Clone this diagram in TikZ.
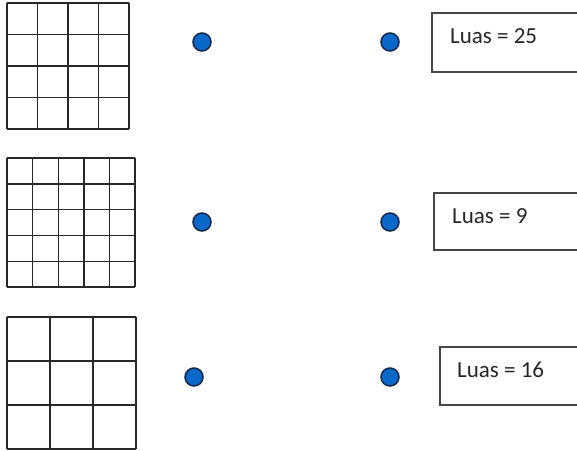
\documentclass[tikz,border=0pt]{standalone}
\usepackage{fontspec}
\setmainfont{Carlito}
\definecolor{dotfill}{RGB}{10,104,200}
\definecolor{dotedge}{RGB}{20,40,75}
\definecolor{gridline}{RGB}{40,40,40}
\definecolor{boxline}{RGB}{70,70,70}
\begin{document}
\begin{tikzpicture}[x=1pt,y=-1pt,
  gridstyle/.style={draw=gridline,line width=1.4pt},
  dotnode/.style={circle,fill=dotfill,draw=dotedge,line width=1.5pt,minimum size=18pt,inner sep=0pt},
  boxstyle/.style={draw=boxline,line width=1.5pt},
  labelnode/.style={anchor=base west,inner sep=0pt,font=\fontsize{23}{27}\selectfont,text=black!85}]
\useasboundingbox (0,0) rectangle (577,450);
% grid 1: 4x4
\foreach \x in {7,37.5,68,98.5,129} \draw[gridstyle] (\x,3) -- (\x,129);
\foreach \y in {3,34.5,66,97.5,129} \draw[gridstyle] (7,\y) -- (129,\y);
% grid 2: 5x5
\foreach \x in {7,32.6,58.2,83.8,109.4,135} \draw[gridstyle] (\x,158) -- (\x,287);
\foreach \y in {158,183.8,209.6,235.4,261.2,287} \draw[gridstyle] (7,\y) -- (135,\y);
% grid 3: 3x3
\foreach \x in {7,50,93,136} \draw[gridstyle] (\x,317) -- (\x,449);
\foreach \y in {317,361,405,449} \draw[gridstyle] (7,\y) -- (136,\y);
% dots
\node[dotnode] (a1) at (202,42) {};
\node[dotnode] (b1) at (390,42) {};
\node[dotnode] (a2) at (202,222) {};
\node[dotnode] (b2) at (390,222) {};
\node[dotnode] (a3) at (194,377) {};
\node[dotnode] (b3) at (390,377) {};
% boxes
\draw[boxstyle] (580,13) -- (432,13) -- (432,72) -- (580,72);
\draw[boxstyle] (580,193) -- (434,193) -- (434,250) -- (580,250);
\draw[boxstyle] (580,347) -- (440,347) -- (440,405) -- (580,405);
\node[labelnode] (t1) at (450,43) {Luas = 25};
\node[labelnode] (t2) at (452,223) {Luas = 9};
\node[labelnode] (t3) at (457,377) {Luas = 16};
\end{tikzpicture}
\end{document}
